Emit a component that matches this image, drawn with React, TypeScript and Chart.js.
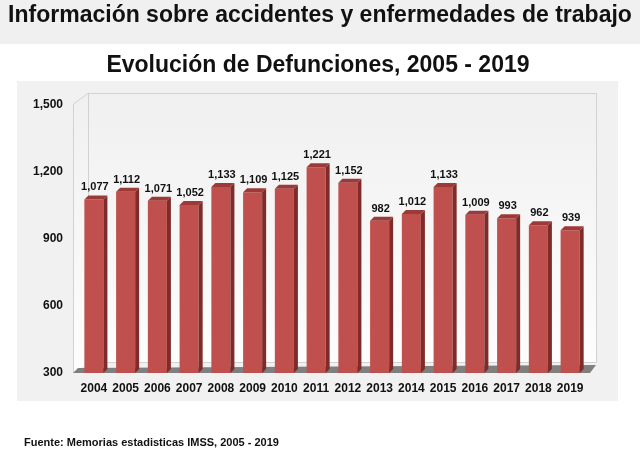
import React, { useEffect, useRef } from "react";
import { Chart, registerables } from "chart.js";

Chart.register(...registerables);

const years = ["2004", "2005", "2006", "2007", "2008", "2009", "2010", "2011", "2012", "2013", "2014", "2015", "2016", "2017", "2018", "2019"];
const defunciones = [1077, 1112, 1071, 1052, 1133, 1109, 1125, 1221, 1152, 982, 1012, 1133, 1009, 993, 962, 939];
const yMin = 300;
const yMax = 1500;
const yStep = 300;

const headerText = "Información sobre accidentes y enfermedades de trabajo";
const titleText = "Evolución de Defunciones, 2005 - 2019";
const sourceText = "Fuente: Memorias estadisticas IMSS, 2005 - 2019";

const FONT = "'Liberation Sans', Arial, Helvetica, sans-serif";
const fmt = (v: number) => v.toLocaleString("en-US");

const scenePlugin = {
  id: "scene3d",
  beforeDraw(chart: any) {
    const { ctx, chartArea } = chart;
    const { left: L, right: R, top: T, bottom: B } = chartArea;
    ctx.save();
    // panel
    ctx.fillStyle = "#f1f1f1";
    ctx.fillRect(17, 81, 601, 320);
    // back wall
    const g = ctx.createLinearGradient(0, T - 12, 0, B - 10);
    g.addColorStop(0, "#f0f0f0");
    g.addColorStop(1, "#fdfdfd");
    ctx.fillStyle = g;
    ctx.fillRect(L + 10, T - 12, R - L, B - T + 2);
    ctx.strokeStyle = "#d2d2d2";
    ctx.lineWidth = 1;
    ctx.strokeRect(L + 10.5, T - 11.5, R - L, B - T + 1);
    // left wall
    ctx.beginPath();
    ctx.moveTo(L - 5, B);
    ctx.lineTo(L - 5, T - 1);
    ctx.lineTo(L + 10, T - 12);
    ctx.lineTo(L + 10, B - 10);
    ctx.closePath();
    ctx.fillStyle = g;
    ctx.fill();
    ctx.beginPath();
    ctx.moveTo(L - 4.5, B);
    ctx.lineTo(L - 4.5, T - 1);
    ctx.lineTo(L + 10.5, T - 12);
    ctx.stroke();
    // floor
    ctx.beginPath();
    ctx.moveTo(L - 5, B);
    ctx.lineTo(R + 4, B);
    ctx.lineTo(R + 10, B - 8);
    ctx.lineTo(L + 0, B - 5);
    ctx.closePath();
    ctx.fillStyle = "#7f7f7f";
    ctx.fill();
    ctx.restore();
  },
  afterDatasetsDraw(chart: any) {
    const { ctx, chartArea } = chart;
    const meta = chart.getDatasetMeta(0);
    const d = 4;
    ctx.save();
    meta.data.forEach((bar: any, i: number) => {
      const { x, y, width } = bar.getProps(["x", "y", "width"], true);
      const base = chartArea.bottom;
      const l = x - width / 2;
      const r = x + width / 2;
      // side face
      ctx.beginPath();
      ctx.moveTo(r, y);
      ctx.lineTo(r + d, y - d);
      ctx.lineTo(r + d, base - d);
      ctx.lineTo(r, base);
      ctx.closePath();
      ctx.fillStyle = "#7e2b29";
      ctx.fill();
      // top face
      ctx.beginPath();
      ctx.moveTo(l, y);
      ctx.lineTo(l + d, y - d);
      ctx.lineTo(r + d, y - d);
      ctx.lineTo(r, y);
      ctx.closePath();
      ctx.fillStyle = "#9c3a38";
      ctx.fill();
      // label
      ctx.fillStyle = "#111";
      ctx.font = `bold 11px ${FONT}`;
      ctx.textAlign = "center";
      ctx.textBaseline = "alphabetic";
      ctx.fillText(fmt(defunciones[i]), x + 1, y - 9);
    });
    ctx.restore();
  },
};

export default function App() {
  const ref = useRef<HTMLCanvasElement | null>(null);

  useEffect(() => {
    if (!ref.current) return;
    const chart = new Chart(ref.current, {
      type: "bar",
      data: {
        labels: years,
        datasets: [
          {
            data: defunciones,
            backgroundColor: "#c0504d",
            borderWidth: 0,
            barPercentage: 0.6,
            categoryPercentage: 1,
          },
        ],
      },
      options: {
        animation: false,
        responsive: true,
        maintainAspectRatio: false,
        events: [],
        layout: { padding: { left: 0, top: 105, right: 54, bottom: 58 } },
        plugins: { legend: { display: false }, tooltip: { enabled: false }, title: { display: false } },
        scales: {
          x: {
            grid: { display: false, drawTicks: false },
            border: { display: false },
            ticks: { color: "#111", font: { family: FONT, size: 12, weight: "bold" }, padding: 8, maxRotation: 0 },
            afterFit: (s: any) => {
              s.height = 22;
            },
          },
          y: {
            min: yMin,
            max: yMax,
            grid: { display: false, drawTicks: false },
            border: { display: false },
            ticks: {
              stepSize: yStep,
              color: "#111",
              font: { family: FONT, size: 12, weight: "bold" },
              padding: 15,
              callback: (v: any) => fmt(Number(v)),
            },
            afterFit: (s: any) => {
              s.width = 78;
            },
          },
        },
      },
      plugins: [scenePlugin],
    } as any);
    return () => chart.destroy();
  }, []);

  return (
    <div style={{ position: "fixed", left: 0, top: 0, width: 640, height: 453, background: "#fff", overflow: "hidden", fontFamily: FONT }}>
      <div style={{ position: "absolute", left: 0, top: 0, width: 640, height: 44, background: "#f0f0f0" }} />
      <div style={{ position: "absolute", left: 0, top: 0, width: 640, height: 453 }}>
        <canvas ref={ref} />
      </div>
      <div style={{ position: "absolute", left: 0, top: 3, width: 640, textAlign: "center", fontSize: 23, lineHeight: "23px", fontWeight: "bold", color: "#111", whiteSpace: "nowrap" }}>
        {headerText}
      </div>
      <div style={{ position: "absolute", left: 0, top: 53, width: 636, textAlign: "center", fontSize: 23, lineHeight: "23px", fontWeight: "bold", color: "#111", whiteSpace: "nowrap" }}>
        {titleText}
      </div>
      <div style={{ position: "absolute", left: 24, top: 437, fontSize: 11, lineHeight: "11px", fontWeight: "bold", color: "#111", whiteSpace: "nowrap" }}>
        {sourceText}
      </div>
    </div>
  );
}
